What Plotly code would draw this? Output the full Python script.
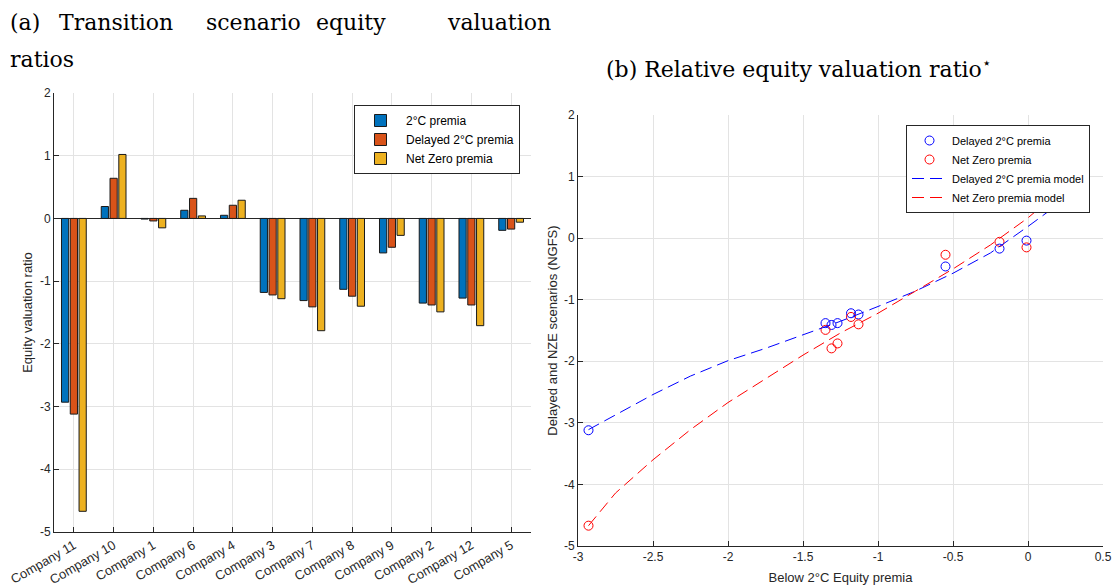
import plotly.graph_objects as go

# ---------------- data ----------------
companies = ["Company 11", "Company 10", "Company 1", "Company 6", "Company 4", "Company 3",
             "Company 7", "Company 8", "Company 9", "Company 2", "Company 12", "Company 5"]
premia_2c = [-2.93, 0.19, -0.01, 0.13, 0.05, -1.18, -1.31, -1.13, -0.55, -1.35, -1.27, -0.19]
premia_delayed = [-3.12, 0.64, -0.04, 0.32, 0.21, -1.22, -1.41, -1.24, -0.46, -1.38, -1.38, -0.17]
premia_netzero = [-4.67, 1.02, -0.15, 0.04, 0.29, -1.28, -1.79, -1.40, -0.27, -1.49, -1.71, -0.06]

# companies shown in panel (b)
scatter_companies = ["Company 11", "Company 10", "Company 1", "Company 3", "Company 7",
                     "Company 8", "Company 9", "Company 2", "Company 12", "Company 5"]

# fitted model curves
model_x = [-2.93, -2.75, -2.5, -2.25, -2.0, -1.75, -1.5, -1.25, -1.0, -0.75, -0.5, -0.25, 0.0, 0.19]
delayed_model_y = [-3.11, -2.87, -2.54, -2.24, -1.99, -1.79, -1.57, -1.35, -1.11, -0.86, -0.57, -0.24, 0.19, 0.53]
netzero_model_y = [-4.67, -4.14, -3.60, -3.11, -2.67, -2.28, -1.90, -1.54, -1.22, -0.86, -0.50, -0.11, 0.33, 0.72]

y_ticks = [-5, -4, -3, -2, -1, 0, 1, 2]
y_tick_text = ["-5", "-4", "-3", "-2", "-1", "0", "1", "2"]
x2_ticks = [-3, -2.5, -2, -1.5, -1, -0.5, 0, 0.5]
x2_tick_text = ["-3", "-2.5", "-2", "-1.5", "-1", "-0.5", "0", "0.5"]

bar_names = ["2°C premia", "Delayed 2°C premia", "Net Zero premia"]
bar_colors = ["#0072BD", "#D95319", "#EDB120"]

# ---------------- figure ----------------
W, H = 1115, 588
fig = go.Figure()

for name, vals, col in zip(bar_names, [premia_2c, premia_delayed, premia_netzero], bar_colors):
    fig.add_trace(go.Bar(
        x=companies, y=vals, name=name, marker=dict(color=col, line=dict(color="#1a1a1a", width=1)),
        xaxis="x", yaxis="y", legend="legend"))

idx = [companies.index(c) for c in scatter_companies]
sx = [premia_2c[i] for i in idx]
sd = [premia_delayed[i] for i in idx]
sn = [premia_netzero[i] for i in idx]

fig.add_trace(go.Scatter(x=sx, y=sd, mode="markers", name="Delayed 2°C premia",
                         marker=dict(symbol="circle-open", color="#0000FF", size=9, line=dict(width=1)),
                         xaxis="x2", yaxis="y2", legend="legend2"))
fig.add_trace(go.Scatter(x=sx, y=sn, mode="markers", name="Net Zero premia",
                         marker=dict(symbol="circle-open", color="#FF0000", size=9, line=dict(width=1)),
                         xaxis="x2", yaxis="y2", legend="legend2"))
fig.add_trace(go.Scatter(x=model_x, y=delayed_model_y, mode="lines", name="Delayed 2°C premia model",
                         line=dict(color="#0000FF", width=1, dash="12px,6px"),
                         xaxis="x2", yaxis="y2", legend="legend2"))
fig.add_trace(go.Scatter(x=model_x, y=netzero_model_y, mode="lines", name="Net Zero premia model",
                         line=dict(color="#FF0000", width=1, dash="12px,6px"),
                         xaxis="x2", yaxis="y2", legend="legend2"))

axis_font = dict(family="Liberation Sans, Arial, sans-serif", size=12, color="#262626")
grid_col = "#E3E3E3"
ax_col = "#262626"

common = dict(showline=True, linecolor=ax_col, linewidth=1, ticks="inside", ticklen=5,
              tickcolor=ax_col, showgrid=True, gridcolor=grid_col, gridwidth=1,
              automargin=False)

fig.update_layout(
    width=W, height=H, margin=dict(l=0, r=0, t=0, b=0, autoexpand=False),
    paper_bgcolor="white", plot_bgcolor="white", hovermode=False,
    font=dict(family="Liberation Sans, Arial, sans-serif", size=12, color="#262626"),
    barmode="group", bargap=0.337, bargroupgap=0.18,
    xaxis=dict(domain=[54 / W, 531 / W], type="category", range=[-0.5, 11.5], tickangle=-30,
               tickfont=dict(family="Liberation Sans, Arial, sans-serif", size=13, color="#262626"),
               zeroline=False, anchor="y", **common),
    yaxis=dict(domain=[1 - 532 / H, 1 - 93 / H], range=[-5, 2], tickvals=y_ticks, ticktext=y_tick_text,
               tickfont=axis_font, zeroline=True, zerolinecolor=ax_col, zerolinewidth=1, anchor="x",
               title=dict(text="Equity valuation ratio", font=dict(size=13, color="#262626"), standoff=4),
               **common),
    xaxis2=dict(domain=[578 / W, 1103 / W], range=[-3, 0.5], tickvals=x2_ticks, ticktext=x2_tick_text,
                tickfont=axis_font, zeroline=False, anchor="y2",
                title=dict(text="Below 2°C Equity premia", font=dict(size=13, color="#262626"), standoff=9),
                **common),
    yaxis2=dict(domain=[1 - 546 / H, 1 - 115 / H], range=[-5, 2], tickvals=y_ticks, ticktext=y_tick_text,
                tickfont=axis_font, zeroline=False, anchor="x2",
                title=dict(text="Delayed and NZE scenarios (NGFS)", font=dict(size=13, color="#262626"), standoff=3),
                **common),
    legend=dict(x=354 / W, y=1 - 105 / H, xanchor="left", yanchor="top", bgcolor="white",
                bordercolor="#262626", borderwidth=1, font=dict(size=12, color="#000"),
                tracegroupgap=0, itemwidth=41),
    legend2=dict(x=906 / W, y=1 - 125 / H, xanchor="left", yanchor="top", bgcolor="white",
                 bordercolor="#262626", borderwidth=1, font=dict(size=11, color="#000"),
                 tracegroupgap=0, itemwidth=35),
)

title_font = dict(family="DejaVu Serif, serif", size=22, color="#000")
words_a = [("(a)", 8), ("Transition", 57), ("scenario", 204), ("equity", 314)]
for w, xpos in words_a:
    fig.add_annotation(text=w, x=xpos / W, y=1 - 23 / H, xref="paper", yref="paper",
                       xanchor="left", yanchor="middle", showarrow=False, font=title_font)
fig.add_annotation(text="valuation", x=553 / W, y=1 - 23 / H, xref="paper", yref="paper",
                   xanchor="right", yanchor="middle", showarrow=False, font=title_font)
fig.add_annotation(text="ratios", x=8 / W, y=1 - 59 / H, xref="paper", yref="paper",
                   xanchor="left", yanchor="middle", showarrow=False, font=title_font)
fig.add_annotation(text="(b) Relative equity valuation ratio<sup>⋆</sup>", x=798 / W, y=1 - 68 / H,
                   xref="paper", yref="paper", xanchor="center", yanchor="middle", showarrow=False,
                   font=title_font)

fig.write_html("out.html", config={"displayModeBar": False},
               post_script="document.body.style.margin='0';")
